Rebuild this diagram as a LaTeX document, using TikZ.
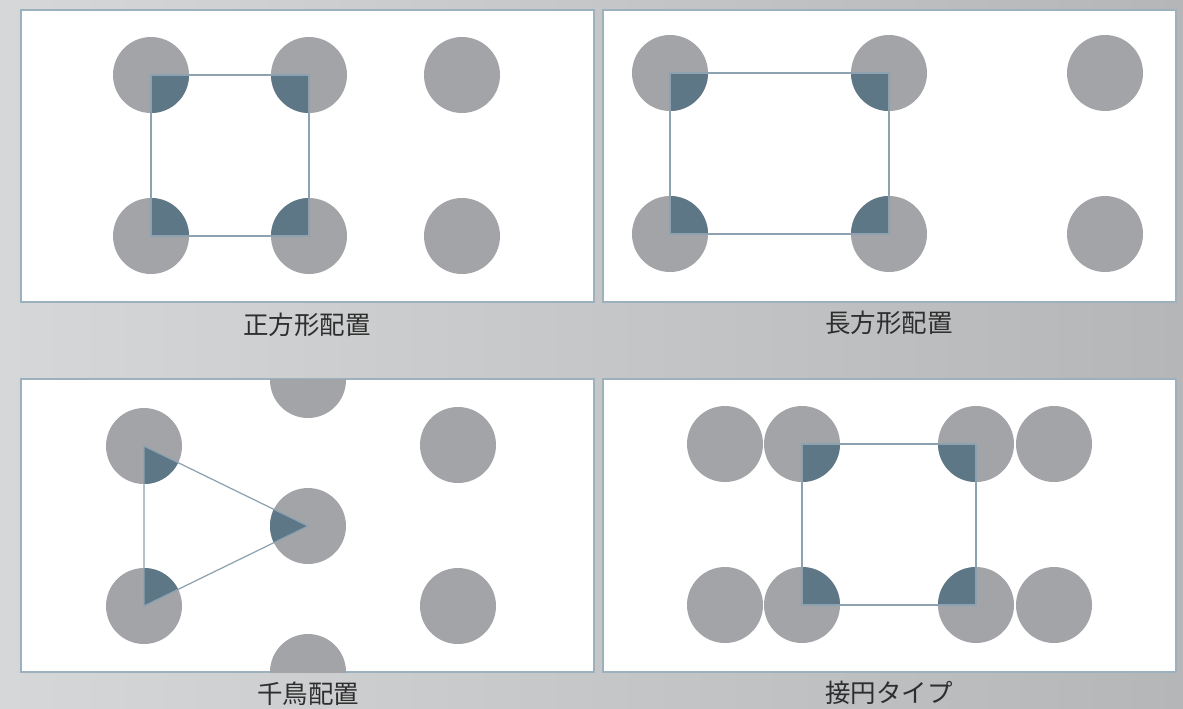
\documentclass[tikz,border=0pt]{standalone}
\usepackage{fontspec}
\newfontfamily\jp{Noto Sans CJK JP}
\definecolor{bgl}{HTML}{D6D7D8}
\definecolor{bgr}{HTML}{B5B6B8}
\definecolor{dotgray}{HTML}{A3A4A8}
\definecolor{darkq}{HTML}{5E7787}
\definecolor{linec}{HTML}{8CA2B0}
\definecolor{framec}{HTML}{9DB0BD}
\definecolor{txt}{HTML}{2E2E2E}
\tikzset{
  dot/.style={circle,fill=dotgray,minimum size=1.52cm,inner sep=0pt,outer sep=0pt},
  panel/.style={fill=white,draw=framec,line width=0.7pt},
  link/.style={draw=linec,line width=0.7pt},
  quarter/.style={fill=darkq},
  caption/.style={font=\jp\fontsize{14.5}{16}\selectfont,text=txt,inner sep=0pt}
}
\begin{document}
\begin{tikzpicture}[x=0.02cm,y=-0.02cm]
\useasboundingbox (0,0) rectangle (1183,708);
\shade[left color=bgl,right color=bgr] (0,0) rectangle (1183,708);
% panels
\draw[panel] (21,10) rectangle (594,302);
\draw[panel] (603,10) rectangle (1176,302);
\draw[panel] (21,379) rectangle (594,672);
\draw[panel] (603,379) rectangle (1176,672);

% ---------- Panel 1: square ----------
\node[dot] (s1) at (151,75) {};
\node[dot] (s2) at (309,75) {};
\node[dot] (s3) at (462,75) {};
\node[dot] (s4) at (151,236) {};
\node[dot] (s5) at (309,236) {};
\node[dot] (s6) at (462,236) {};
\begin{scope}
  \clip (s1.center) rectangle (s5.center);
  \foreach \n in {s1,s2,s4,s5} \fill[quarter] (\n.center) circle[radius=0.76cm];
\end{scope}
\draw[link] (s1.center) -- (s2.center) -- (s5.center) -- (s4.center) -- cycle;
\node[caption] (c1) at (307,325) {正方形配置};

% ---------- Panel 2: rectangle ----------
\node[dot] (r1) at (670,73) {};
\node[dot] (r2) at (889,73) {};
\node[dot] (r3) at (1105,73) {};
\node[dot] (r4) at (670,234) {};
\node[dot] (r5) at (889,234) {};
\node[dot] (r6) at (1105,234) {};
\begin{scope}
  \clip (r1.center) rectangle (r5.center);
  \foreach \n in {r1,r2,r4,r5} \fill[quarter] (\n.center) circle[radius=0.76cm];
\end{scope}
\draw[link] (r1.center) -- (r2.center) -- (r5.center) -- (r4.center) -- cycle;
\node[caption] (c2) at (889,323) {長方形配置};

% ---------- Panel 3: staggered ----------
\begin{scope}
  \clip (21,379) rectangle (594,672);
  \node[dot] (t0) at (308,380) {};
  \node[dot] (t6) at (308,672) {};
\end{scope}
\node[dot] (t1) at (144,446) {};
\node[dot] (t2) at (144,606) {};
\node[dot] (t3) at (308,526) {};
\node[dot] (t4) at (458,445) {};
\node[dot] (t5) at (458,606) {};
\begin{scope}
  \clip (t1.center) -- (t3.center) -- (t2.center) -- cycle;
  \foreach \n in {t1,t2,t3} \fill[quarter] (\n.center) circle[radius=0.76cm];
\end{scope}
\draw[link] (t1.center) -- (t3.center) -- (t2.center) -- cycle;
\node[caption] (c3) at (308,694) {千鳥配置};

% ---------- Panel 4: tangent circles ----------
\node[dot] (u1) at (725,444) {};
\node[dot] (u2) at (802,444) {};
\node[dot] (u3) at (976,444) {};
\node[dot] (u4) at (1054,444) {};
\node[dot] (u5) at (725,605) {};
\node[dot] (u6) at (802,605) {};
\node[dot] (u7) at (976,605) {};
\node[dot] (u8) at (1054,605) {};
\begin{scope}
  \clip (u2.center) rectangle (u7.center);
  \foreach \n in {u2,u3,u6,u7} \fill[quarter] (\n.center) circle[radius=0.76cm];
\end{scope}
\draw[link] (u2.center) -- (u3.center) -- (u7.center) -- (u6.center) -- cycle;
\node[caption] (c4) at (889,693) {接円タイプ};
\end{tikzpicture}
\end{document}
